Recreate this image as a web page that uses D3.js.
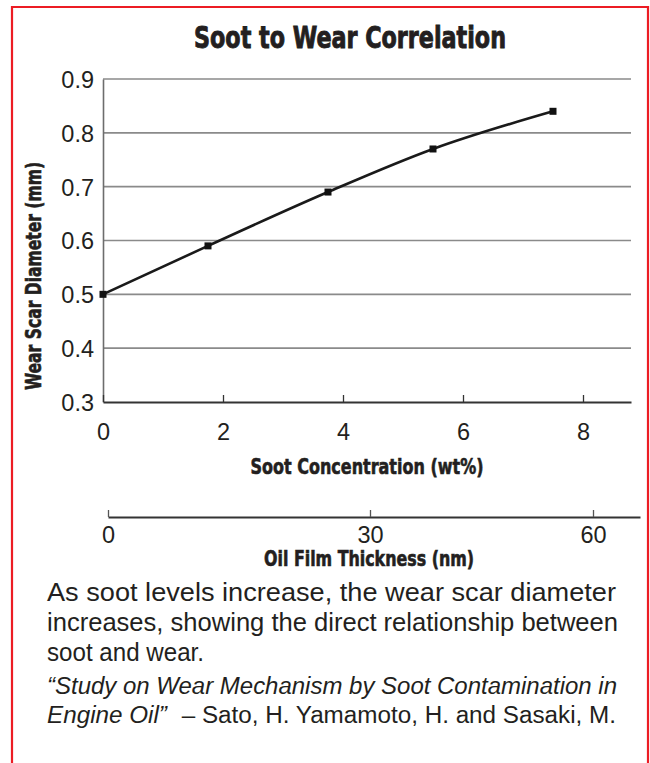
<!DOCTYPE html>
<html><head><meta charset="utf-8">
<script src="https://cdn.jsdelivr.net/npm/d3@7"></script>
<style>
html,body{margin:0;padding:0;background:#fff;}
svg{display:block;}
</style></head>
<body>
<svg id="chart" width="650" height="763"></svg>
<script>
// ---- data ----
const sootConc = [0, 1.75, 3.75, 5.5, 7.5];
const wearScar = [0.50, 0.59, 0.69, 0.77, 0.84];
const xTicks = [0, 2, 4, 6, 8];
const yTicks = [0.3, 0.4, 0.5, 0.6, 0.7, 0.8, 0.9];
const filmTicks = [0, 30, 60];
const titleText = "Soot to Wear Correlation";
const xLabel = "Soot Concentration (wt%)";
const yLabel = "Wear Scar Diameter (mm)";
const filmLabel = "Oil Film Thickness (nm)";
const bodyLines = [
  "As soot levels increase, the wear scar diameter",
  "increases, showing the direct relationship between",
  "soot and wear."
];
const citeTitle1 = "\u201CStudy on Wear Mechanism by Soot Contamination in";
const citeTitle2 = "Engine Oil\u201D";
const citeAuthors = "\u2013 Sato, H. Yamamoto, H. and Sasaki, M.";

// layout (text measures in px)
const bodyWidths = [569, 571, 157];

const svg = d3.select("#chart");
const ink = "#231f20";
const condensed = "'Liberation Sans Narrow','DejaVu Sans Condensed','Liberation Sans',Arial,sans-serif";
const sans = "'Liberation Sans',Arial,Helvetica,sans-serif";

// border
svg.append("path")
  .attr("d", "M12,770 L12,7 L648,7 L648,770")
  .attr("fill", "none").attr("stroke", "#ec1c24").attr("stroke-width", 2.2);

// title
svg.append("text").attr("x", 350).attr("y", 48)
  .attr("text-anchor", "middle")
  .attr("font-family", condensed).attr("font-weight", "bold").attr("font-size", 31)
  .attr("fill", ink).attr("stroke", ink).attr("stroke-width", 0.9)
  .attr("textLength", 312).attr("lengthAdjust", "spacingAndGlyphs")
  .text(titleText);

const x = d3.scaleLinear().domain([0, 8.8]).range([103, 631]);
const y = d3.scaleLinear().domain([0.3, 0.9]).range([402, 79]);

// gridlines
svg.append("g").selectAll("line").data(yTicks.filter(t => t > 0.3)).join("line")
  .attr("x1", x(0)).attr("x2", x(8.8))
  .attr("y1", d => y(d)).attr("y2", d => y(d))
  .attr("stroke", "#8a8a8a").attr("stroke-width", 1.6);

// y axis
const yAxis = svg.append("g").attr("transform", `translate(${x(0)},0)`)
  .call(d3.axisLeft(y).tickValues(yTicks).tickFormat(d3.format(".1f")).tickSize(0).tickPadding(9));
yAxis.select(".domain").attr("stroke", "#6d6d6d").attr("stroke-width", 1.6);
yAxis.selectAll("text").attr("font-family", sans).attr("font-size", 23.5).attr("fill", ink).attr("dy", "0.36em");

// x axis
const xAxis = svg.append("g").attr("transform", `translate(0,${y(0.3)})`)
  .call(d3.axisBottom(x).tickValues(xTicks).tickFormat(d3.format("d")).tickSize(0).tickPadding(38));
xAxis.select(".domain").attr("stroke", "#333").attr("stroke-width", 1.8);
xAxis.selectAll(".tick line").attr("y2", -7).attr("stroke", "#333").attr("stroke-width", 1.3);
xAxis.selectAll("text").attr("font-family", sans).attr("font-size", 23.5).attr("fill", ink).attr("dy", "0");

// axis labels
svg.append("text").attr("x", 367).attr("y", 474)
  .attr("text-anchor", "middle")
  .attr("font-family", condensed).attr("font-weight", "bold").attr("font-size", 22)
  .attr("fill", ink).attr("stroke", ink).attr("stroke-width", 0.6)
  .attr("textLength", 233).attr("lengthAdjust", "spacingAndGlyphs")
  .text(xLabel);

svg.append("text")
  .attr("transform", "translate(41,276) rotate(-90)")
  .attr("text-anchor", "middle")
  .attr("font-family", condensed).attr("font-weight", "bold").attr("font-size", 22)
  .attr("fill", ink).attr("stroke", ink).attr("stroke-width", 0.6)
  .attr("textLength", 228).attr("lengthAdjust", "spacingAndGlyphs")
  .text(yLabel);

// data line
const pts = sootConc.map((c, i) => [c, wearScar[i]]);
svg.append("path").datum(pts)
  .attr("fill", "none").attr("stroke", "#1a1a1a").attr("stroke-width", 2.6)
  .attr("d", d3.line().x(d => x(d[0])).y(d => y(d[1])).curve(d3.curveMonotoneX));
svg.append("g").selectAll("rect").data(pts).join("rect")
  .attr("x", d => x(d[0]) - 3.5).attr("y", d => y(d[1]) - 3.5)
  .attr("width", 7).attr("height", 7).attr("fill", "#111");

// secondary axis (oil film thickness)
const film = d3.scaleLinear().domain([0, 30, 60, 66.5]).range([108, 370, 593, 640]);
const fAxis = svg.append("g").attr("transform", "translate(0,517)")
  .call(d3.axisBottom(film).tickValues(filmTicks).tickSize(0).tickPadding(26));
fAxis.select(".domain").attr("stroke", "#333").attr("stroke-width", 1.8);
fAxis.selectAll(".tick line").attr("y2", -7).attr("stroke", "#555").attr("stroke-width", 1.3);
fAxis.selectAll("text").attr("font-family", sans).attr("font-size", 23.5).attr("fill", ink).attr("dy", "0");

svg.append("text").attr("x", 369).attr("y", 566)
  .attr("text-anchor", "middle")
  .attr("font-family", condensed).attr("font-weight", "bold").attr("font-size", 21)
  .attr("fill", ink).attr("stroke", ink).attr("stroke-width", 0.6)
  .attr("textLength", 210).attr("lengthAdjust", "spacingAndGlyphs")
  .text(filmLabel);

// body text, fitted to the reference's measure
svg.append("g").selectAll("text").data(bodyLines).join("text")
  .attr("x", 47).attr("y", (d, i) => 601 + i * 30)
  .attr("font-family", sans).attr("font-size", 25).attr("fill", ink)
  .attr("textLength", (d, i) => bodyWidths[i]).attr("lengthAdjust", "spacingAndGlyphs")
  .text(d => d);

// citation
svg.append("text").attr("x", 47).attr("y", 694)
  .attr("font-family", sans).attr("font-style", "italic").attr("font-size", 23).attr("fill", ink)
  .attr("textLength", 570).attr("lengthAdjust", "spacingAndGlyphs")
  .text(citeTitle1);
const c2 = svg.append("text").attr("x", 47).attr("y", 723)
  .attr("font-family", sans).attr("font-size", 23).attr("fill", ink)
  .attr("textLength", 569).attr("lengthAdjust", "spacingAndGlyphs");
c2.append("tspan").attr("font-style", "italic").text(citeTitle2);
c2.append("tspan").attr("dx", 14).text(citeAuthors);
</script>
</body></html>
